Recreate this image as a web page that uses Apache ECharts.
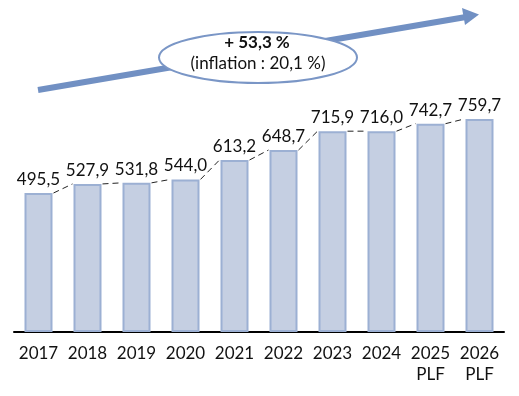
<!DOCTYPE html>
<html>
<head>
<meta charset="utf-8">
<script src="https://cdn.jsdelivr.net/npm/echarts@6/dist/echarts.min.js"></script>
<style>html,body{margin:0;padding:0;background:#fff}#c{width:519px;height:396px}</style>
</head>
<body>
<div id="c"></div>
<script>
var categories = ['2017', '2018', '2019', '2020', '2021', '2022', '2023', '2024', '2025\nPLF', '2026\nPLF'];
var values = [495.5, 527.9, 531.8, 544.0, 613.2, 648.7, 715.9, 716.0, 742.7, 759.7];
var growthText = '+ 53,3 %';
var inflationText = '(inflation : 20,1 %)';

var FONT = 'Lato, "Open Sans", sans-serif';
var BAR_W = 28;
var chart = echarts.init(document.getElementById('c'), null, {renderer: 'canvas'});

var lineData = [];
for (var i = 0; i < values.length - 1; i++) {
  lineData.push([i, values[i], values[i + 1]]);
}

chart.setOption({
  animation: false,
  grid: {left: 14, right: 15, top: 51.5, bottom: 64},
  xAxis: {
    type: 'category',
    data: categories,
    axisLine: {show: true, lineStyle: {color: '#000', width: 2}},
    axisTick: {show: false},
    axisLabel: {color: '#111', fontSize: 17, fontFamily: FONT, margin: 11, lineHeight: 21, interval: 0}
  },
  yAxis: {
    type: 'value', min: 0, max: 1000, show: false,
    splitLine: {show: false}
  },
  series: [
    {
      type: 'bar',
      data: values,
      barWidth: BAR_W,
      itemStyle: {color: '#c5cfe2', borderColor: '#9cb0d3', borderWidth: 2},
      label: {
        show: true, position: 'top', distance: 5,
        color: '#111', fontSize: 17, fontFamily: FONT,
        formatter: function (p) { return p.value.toFixed(1).replace('.', ','); }
      },
      z: 2
    },
    {
      type: 'custom',
      data: lineData,
      encode: {x: 0, y: 1},
      renderItem: function (params, api) {
        var i = api.value(0);
        var p1 = api.coord([i, api.value(1)]);
        var p2 = api.coord([i + 1, api.value(2)]);
        return {
          type: 'line',
          shape: {x1: p1[0] + BAR_W / 2 + 1, y1: p1[1], x2: p2[0] - BAR_W / 2 - 1, y2: p2[1]},
          style: {stroke: '#222', lineWidth: 1, lineDash: [6, 4]}
        };
      },
      z: 3
    }
  ],
  graphic: [
    {
      type: 'line', z: 10,
      shape: {x1: 38, y1: 90, x2: 466, y2: 17},
      style: {stroke: '#7190c3', lineWidth: 6}
    },
    {
      type: 'polygon', z: 10,
      shape: {points: [[479, 14.5], [462, 8], [465, 25]]},
      style: {fill: '#7190c3'}
    },
    {
      type: 'ellipse', z: 11,
      shape: {cx: 258, cy: 57.5, rx: 99, ry: 25.5},
      style: {fill: '#fff', stroke: '#7a96c6', lineWidth: 2}
    },
    {
      type: 'text', z: 12,
      style: {x: 257, y: 43, text: growthText, textAlign: 'center', textVerticalAlign: 'middle',
        font: 'bold 17px ' + FONT, fill: '#111'}
    },
    {
      type: 'text', z: 12,
      style: {x: 258, y: 64, text: inflationText, textAlign: 'center', textVerticalAlign: 'middle',
        font: '17px ' + FONT, fill: '#111'}
    }
  ]
});
</script>
</body>
</html>
